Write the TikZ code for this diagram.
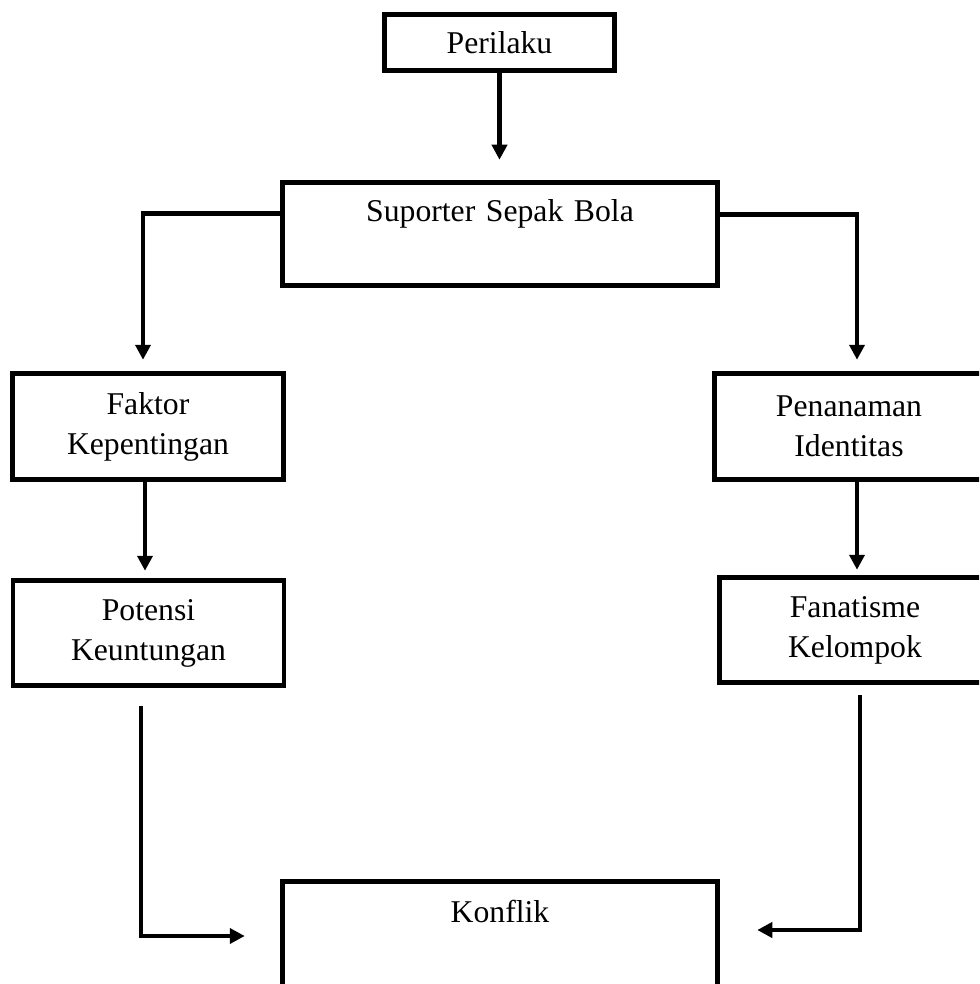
\documentclass[tikz,border=0pt]{standalone}
\usepackage{fontspec}
\setmainfont{Liberation Serif}
\usetikzlibrary{arrows.meta,positioning}
\tikzset{
  box/.style={draw=black, line width=4.5pt, fill=white, align=center, inner sep=0pt, font=\fontsize{31.7}{40}\selectfont},
  sidebox/.style={box, minimum width=271pt, minimum height=106pt},
  widebox/.style={box, text width=435pt},
  arrow/.style={-{Triangle[length=15pt,width=15pt]}, line width=4.5pt}
}

\begin{document}
\begin{tikzpicture}[x=1pt,y=-1pt]
\useasboundingbox (0,0) rectangle (979,984);
\clip (0,0) rectangle (979,984);

\node[box, minimum width=230pt, minimum height=56pt] (perilaku) at (499.5,42.5) {Perilaku};
\node[widebox, text height=39.5pt, text depth=63.5pt] (suporter) at (500,234) {Suporter Sepak Bola};

\node[sidebox] (faktor) at (148,426.5) {Faktor\\Kepentingan};
\node[sidebox, minimum height=105pt] (potensi) at (148.5,633) {Potensi\\Keuntungan};
\node[sidebox, minimum width=269pt] (penanaman) at (849,426.5) {Penanaman\\Identitas};
\node[sidebox, minimum height=105pt] (fanatisme) at (855,630) {Fanatisme\\Kelompok};

% box at the foot runs past the page
\node[widebox, text height=40.5pt, text depth=68.5pt] (konflik) at (500,936) {Konflik};

\draw[arrow, shorten >=20.5pt] (perilaku.south) -- (perilaku.south |- suporter.north);
\draw[arrow, shorten >=11.5pt] ([yshift=-33.5pt]suporter.north west) -| ([xshift=-5pt]faktor.north);
\draw[arrow, shorten >=11.5pt] ([yshift=-34.5pt]suporter.north east) -| ([xshift=8pt]penanaman.north);
\draw[arrow, shorten >=7.5pt] ([xshift=-3pt]faktor.south) -- ([xshift=-3pt]faktor.south |- potensi.north);
\draw[arrow, shorten >=5.5pt] ([xshift=8pt]penanaman.south) -- ([xshift=8pt]penanaman.south |- fanatisme.north);
\draw[arrow, shorten <=18.5pt, shorten >=35.5pt] ([xshift=-7.5pt]potensi.south) |- (konflik.west);
\draw[arrow, shorten <=10.5pt, shorten >=37.5pt] ([xshift=5pt]fanatisme.south) |- ([yshift=6pt]konflik.east);
\end{tikzpicture}
\end{document}
